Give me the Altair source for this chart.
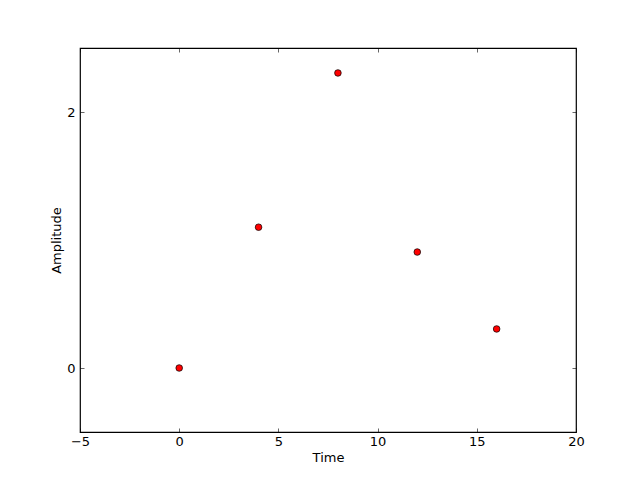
import altair as alt
import pandas as pd

time = [0, 4, 8, 12, 16]
amplitude = [0.0, 1.10, 2.305, 0.906, 0.305]
x_ticks = [-5, 0, 5, 10, 15, 20]
y_ticks = [0, 2]

df = pd.DataFrame({"Time": time, "Amplitude": amplitude})

FONT = "DejaVu Sans"

xs = alt.Scale(domain=[-5, 20], nice=False, zero=False)
ys = alt.Scale(domain=[-0.5, 2.5], nice=False, zero=False)

def axis_x(orient, labels, title):
    kw = dict(orient=orient, values=x_ticks, labels=labels, grid=False, domain=False,
              ticks=True, tickSize=4, tickColor="black", tickWidth=0.6, offset=-4,
              labelFont=FONT, labelFontSize=13, labelColor="black", labelPadding=3,
              labelFlush=False, labelOverlap=False,
              titleFont=FONT, titleFontSize=13, titleFontWeight="normal", titleColor="black",
              titlePadding=3, format="d")
    kw["title"] = title if title else None
    return alt.Axis(**kw)

def axis_y(orient, labels, title):
    kw = dict(orient=orient, values=y_ticks, labels=labels, grid=False, domain=False,
              ticks=True, tickSize=4, tickColor="black", tickWidth=0.6, offset=-4,
              labelFont=FONT, labelFontSize=13, labelColor="black", labelPadding=5,
              labelFlush=False, labelOverlap=False,
              titleFont=FONT, titleFontSize=13, titleFontWeight="normal", titleColor="black",
              titlePadding=3, format="d")
    kw["title"] = title if title else None
    return alt.Axis(**kw)

base = alt.Chart(df)

pts = base.mark_point(shape="circle", filled=True, fill="red", stroke="black",
                      strokeWidth=0.7, size=44, opacity=1).encode(
    x=alt.X("Time:Q", scale=xs, axis=axis_x("bottom", True, "Time")),
    y=alt.Y("Amplitude:Q", scale=ys, axis=axis_y("left", True, "Amplitude")),
)

frame = base.mark_point(opacity=0).encode(
    x=alt.X("Time:Q", scale=xs, axis=axis_x("top", False, None)),
    y=alt.Y("Amplitude:Q", scale=ys, axis=axis_y("right", False, None)),
)

chart = alt.layer(pts, frame).resolve_axis(x="independent", y="independent").properties(
    width=496, height=384,
    autosize=alt.AutoSizeParams(type="none"),
    padding={"left": 72, "top": 40, "right": 56, "bottom": 40},
    background="white",
).configure_view(stroke="black", strokeWidth=1.2, fill="white")

chart.save("out.html", embed_options={"renderer": "svg", "actions": False})
